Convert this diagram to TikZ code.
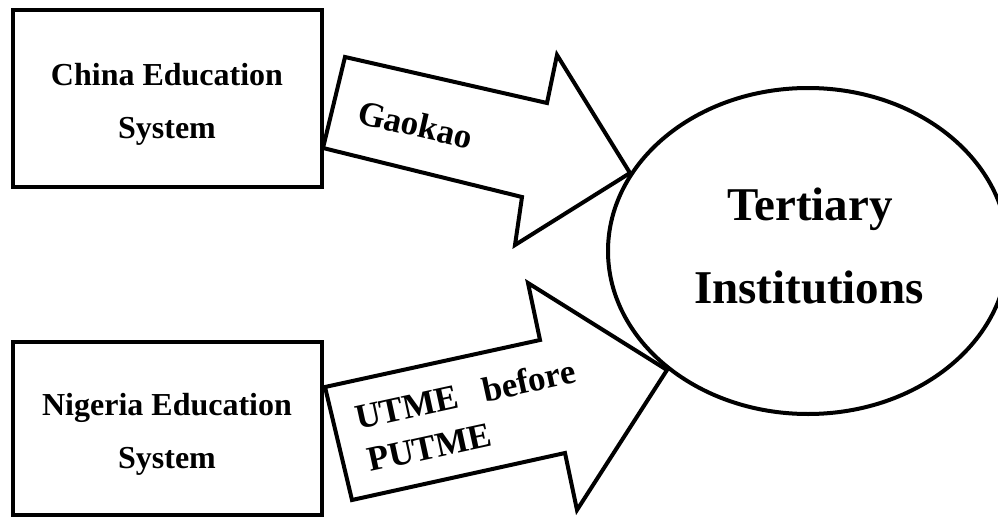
\documentclass[tikz,border=0pt]{standalone}
\usepackage{fontspec}
\setmainfont{Liberation Serif}
\usetikzlibrary{shapes.geometric}
\begin{document}
\begin{tikzpicture}[x=1pt,y=-1pt,
  boxline/.style={draw=black,line width=4pt,inner sep=0pt},
  lbl/.style={font=\bfseries\fontsize{32}{38}\selectfont,inner sep=0pt,anchor=base},
  alabel/.style={font=\bfseries\fontsize{35}{42}\selectfont,inner sep=0pt,anchor=base west},
  big/.style={font=\bfseries\fontsize{47}{56}\selectfont,inner sep=0pt,anchor=base},
  blockarrow/.style={draw=black,line width=4pt,line join=miter,fill=white}]
\useasboundingbox (0,0) rectangle (998,519);
\clip (0,0) rectangle (998,519);
% boxes
\node[boxline,minimum width=309pt,minimum height=177pt] (china) at (167.5,98.5) {};
\node[boxline,minimum width=309pt,minimum height=173pt] (nigeria) at (167.5,428.5) {};
\node[lbl] (chinaA) at (167,85) {China Education};
\node[lbl] (chinaB) at (167,138) {System};
\node[lbl] (nigA) at (167,415) {Nigeria Education};
\node[lbl] (nigB) at (167,468) {System};
% block arrows
\draw[blockarrow] (345,57) -- (547,103) -- (557,55) -- (630,173) -- (515,245) -- (522,197) -- (323,148) -- cycle;
\draw[blockarrow] (325,387) -- (540,340) -- (528,283) -- (667,370) -- (577,510) -- (565,453) -- (352,500) -- cycle;
\node[alabel,rotate=-12.8] (gaokao) at (356,123) {Gaokao};
\node[alabel,rotate=12.3] (utme) at (358,430) {UTME\hspace{25pt}before};
\node[alabel,rotate=12.3] (putme) at (370,472) {PUTME};
% ellipse
\node[draw=black,line width=4pt,ellipse,minimum width=400pt,minimum height=326pt,inner sep=0pt] (tert) at (808,251) {};
\node[big] (tertA) at (810,220) {Tertiary};
\node[big] (tertB) at (809,303) {Institutions};
\end{tikzpicture}
\end{document}
